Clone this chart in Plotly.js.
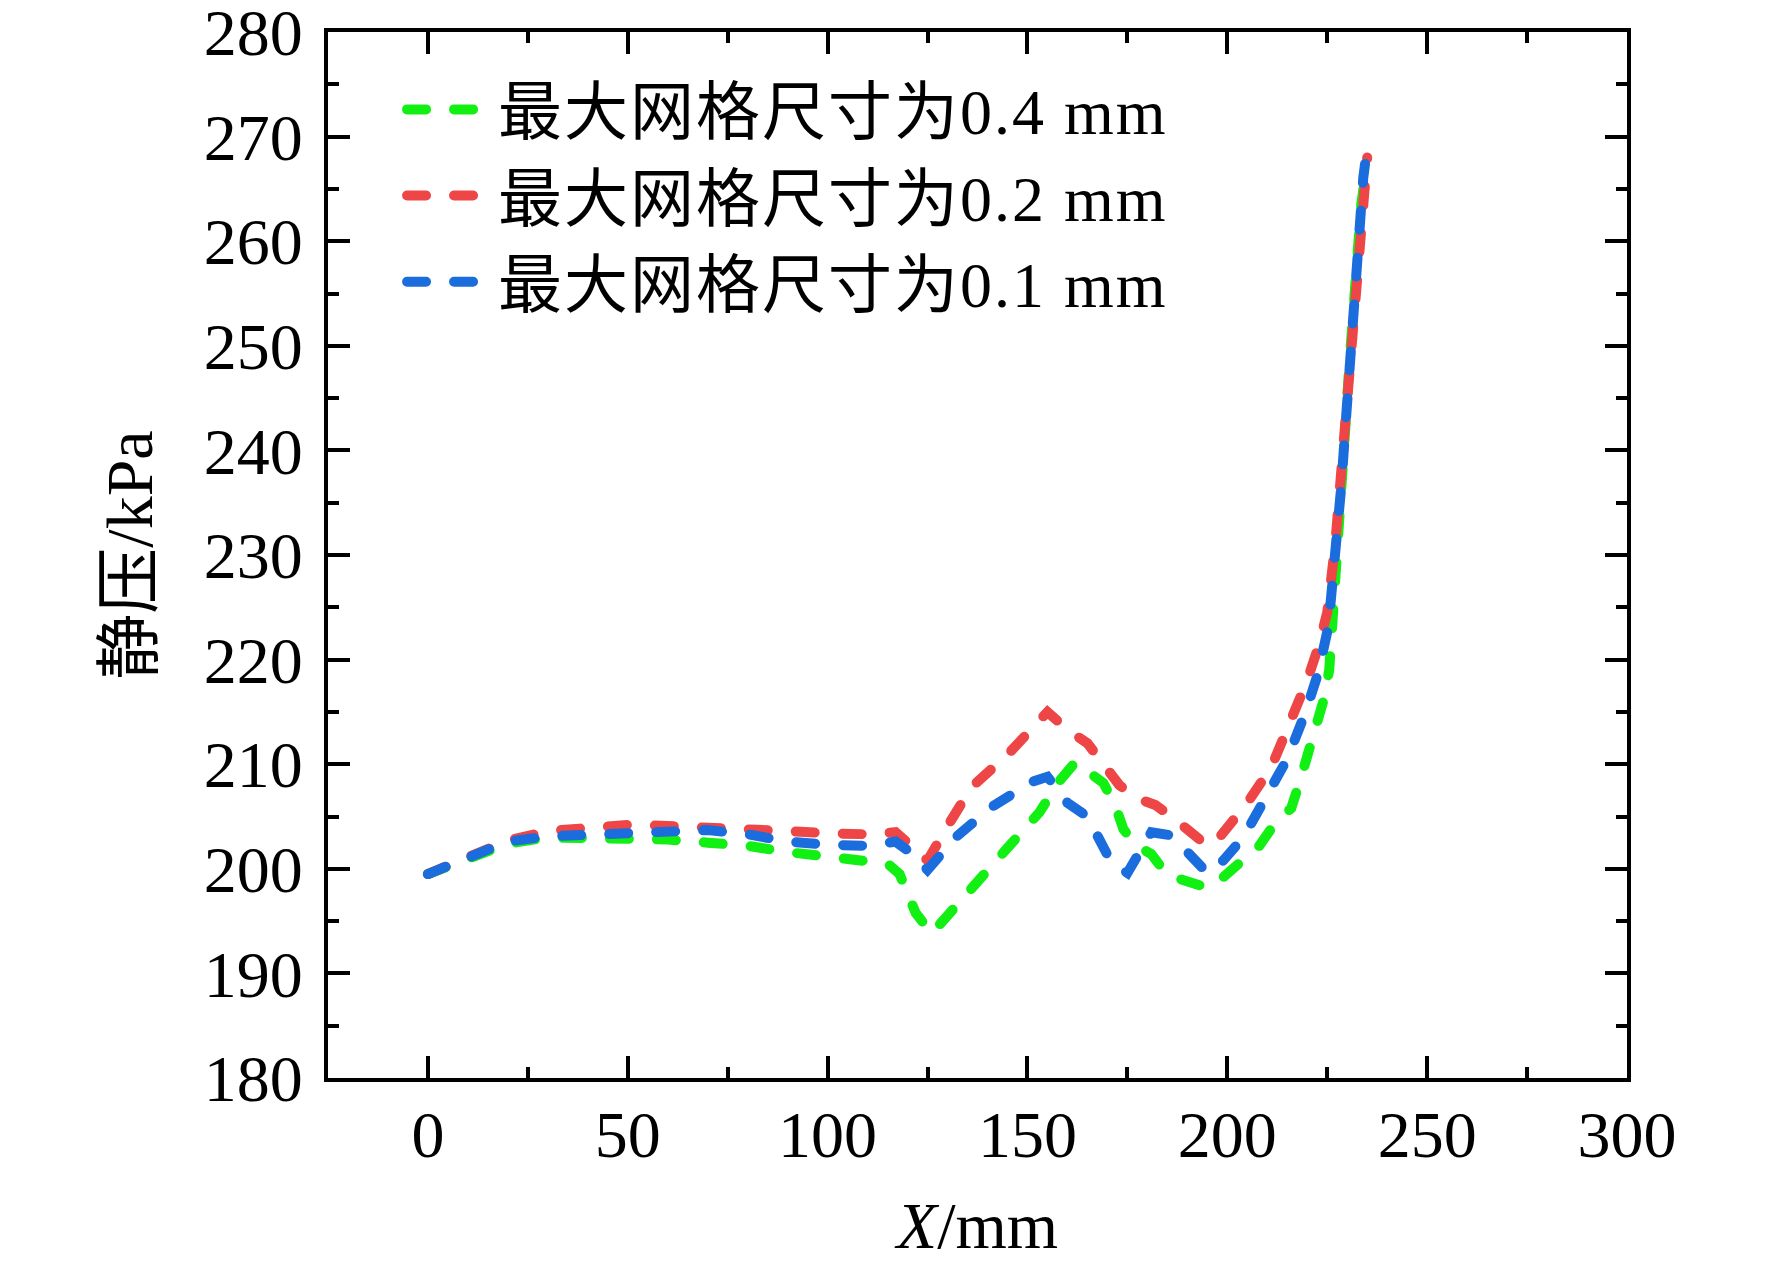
<!DOCTYPE html>
<html>
<head>
<meta charset="utf-8">
<script src="https://cdn.plot.ly/plotly-3.0.1.min.js"></script>
<style>
  html, body { margin: 0; padding: 0; background: #ffffff; }
  #plot3 { width: 1772px; height: 1269px; }
  .js-line { stroke-linecap: round; }
  .legendtext { letter-spacing: 2px; }
</style>
</head>
<body>
<div id="plot3"></div>
<script>
// series names
var names = ['最大网格尺寸为0.4 mm', '最大网格尺寸为0.2 mm', '最大网格尺寸为0.1 mm'];
var colors = ['#12ef12', '#ee4646', '#1b6cdc'];

// 0.4 mm
var x_04 = [0, 10, 20, 30, 40, 50, 60, 70, 80, 90, 100, 110, 115, 118, 122, 126, 130, 137, 145, 153, 158, 162, 164, 169, 172, 174, 177, 181, 185, 190, 195, 199, 204, 208, 212, 216, 218.5, 222, 224, 225.5, 226.5, 227.5, 228.5, 229.5, 230.5, 231.5, 232.5, 233.5, 235];
var y_04 = [199.5, 201, 202.4, 203, 203, 202.9, 202.8, 202.5, 202.2, 201.6, 201.2, 200.9, 200.5, 199.5, 195.8, 193.8, 195.6, 198.7, 202, 205.4, 208.4, 210.2, 209.7, 208.2, 206, 203.8, 202.3, 201.4, 199.4, 198.7, 198.2, 199.2, 200.8, 202.2, 204.4, 205.8, 208.8, 213, 216, 219, 224, 230, 236, 242, 248, 253.5, 259, 263.5, 267.5];

// 0.2 mm
var x_02 = [0, 10, 20, 30, 40, 50, 60, 70, 80, 90, 100, 110, 117, 121, 125, 131, 136, 145, 152, 155, 160, 165, 169, 173, 177, 182, 186, 191, 195, 198, 205, 211, 216, 220, 223, 225, 227, 229, 230.5, 232, 233.5, 235];
var y_02 = [199.5, 201, 202.7, 203.6, 204, 204.2, 204.1, 204, 203.9, 203.6, 203.4, 203.3, 203.5, 202.2, 200.8, 204.7, 207.8, 210.9, 214, 215, 213.3, 212, 210, 208, 206.8, 206.1, 205, 203.5, 202.2, 203, 206.3, 209.7, 214, 218, 221.5, 224.5, 231, 240, 248, 256, 263, 268];

// 0.1 mm
var x_01 = [0, 10, 20, 30, 40, 50, 60, 70, 80, 90, 100, 110, 117, 121, 125, 132, 141, 151, 155, 160, 165, 168, 171, 175, 178, 181, 186, 190, 195, 199, 204, 209, 215, 219.5, 222.8, 225.3, 226.4, 227.5, 228.5, 229.5, 230.5, 231.8, 232.5, 233, 234, 235];
var y_01 = [199.5, 201, 202.6, 203.1, 203.3, 203.5, 203.7, 203.7, 203.3, 202.6, 202.3, 202.2, 202.6, 201.5, 199.9, 203, 205.9, 208.3, 208.8, 206.3, 205, 202.8, 200.6, 199.6, 201.5, 203.5, 203.2, 201.5, 199.6, 200.8, 203, 206.4, 210.5, 214.9, 218.8, 223.2, 227.2, 232, 236.5, 242, 248, 253.5, 258, 263, 266, 269];

var font_family = "'Liberation Serif', 'Noto Sans CJK SC', serif";

function trace_create(xs, ys, name, color)
{
    return {
        type: 'scatter',
        mode: 'lines',
        x: xs,
        y: ys,
        name: name,
        line: {color: color, width: 10, dash: '19px,28px'},
    };
}

var traces = [];
traces.push( trace_create(x_04, y_04, names[0], colors[0]) );
traces.push( trace_create(x_02, y_02, names[1], colors[1]) );
traces.push( trace_create(x_01, y_01, names[2], colors[2]) );

var axis_common = {
    showline: true, linewidth: 4, linecolor: 'black', mirror: 'allticks',
    showgrid: false, zeroline: false,
    ticks: 'inside', ticklen: 22, tickwidth: 4, tickcolor: 'black',
    ticklabeloverflow: 'allow',
    tickfont: {family: font_family, size: 66, color: 'black'},
};

var layout = {
    width: 1772, height: 1269,
    margin: {l: 328, r: 145, t: 32, b: 191},
    paper_bgcolor: 'white', plot_bgcolor: 'white',
    font: {family: font_family, color: 'black'},
    showlegend: true,
    legend: {
        x: 0.057, xanchor: 'left', y: 0.972, yanchor: 'top',
        bgcolor: 'rgba(0,0,0,0)', borderwidth: 0,
        font: {family: font_family, size: 64, color: 'black'},
        itemwidth: 86,
    },
    xaxis: Object.assign({}, axis_common, {
        range: [-25, 300], tickvals: [0, 50, 100, 150, 200, 250, 300],
        minor: {dtick: 25, ticks: 'inside', ticklen: 11, tickwidth: 4, tickcolor: 'black', showgrid: false},
        ticklabelstandoff: -4,
        title: {text: '<i>X</i>/mm', font: {family: font_family, size: 66}, standoff: 33},
    }),
    yaxis: Object.assign({}, axis_common, {
        range: [180, 280], dtick: 10,
        minor: {dtick: 5, ticks: 'inside', ticklen: 11, tickwidth: 4, tickcolor: 'black', showgrid: false},
        ticklabelstandoff: 8,
        title: {text: '静压/kPa', font: {family: font_family, size: 66}, standoff: 31},
    }),
};

var plot3 = document.getElementById('plot3');
Plotly.newPlot(plot3, traces, layout, {staticPlot: true, displayModeBar: false});
</script>
</body>
</html>
